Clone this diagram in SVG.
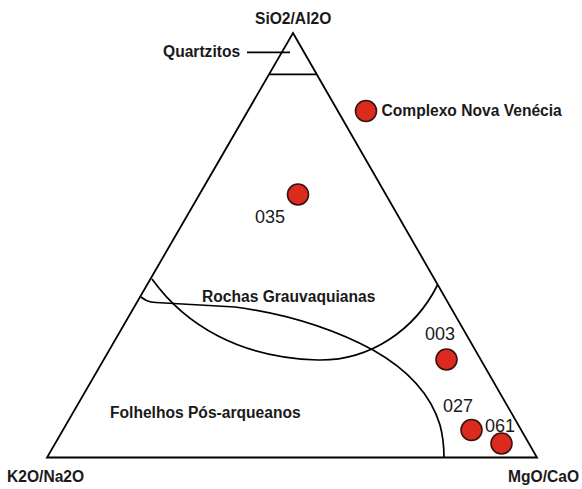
<svg xmlns="http://www.w3.org/2000/svg" width="582" height="489" viewBox="0 0 582 489">
<style>
.ln{fill:none;stroke:#000;stroke-width:1.8;stroke-linejoin:miter;stroke-linecap:butt}
.cv{fill:none;stroke:#000;stroke-width:1.7}
.lb{font-family:"Liberation Sans",Arial,sans-serif;font-weight:bold;font-size:15.6px;fill:#1a1a1a}
.num{font-family:"Liberation Sans",Arial,sans-serif;font-size:18px;fill:#1a1a1a}
.dot{fill:#dd2a1e;stroke:#3a1410;stroke-width:1.6}
</style>
<rect width="582" height="489" fill="#fff"/>
<g id="frame">
<path class="ln" d="M293,33 L537,457.5 L47,457.5 Z"/>
<line class="ln" x1="269.2" y1="74.3" x2="316.8" y2="74.3"/>
<line class="ln" x1="247" y1="52.3" x2="290" y2="52.3"/>
</g>
<g id="fields">
<path class="cv" d="M152,279 C185,325 240,358 318,360 C370,361 415,330 437.5,285"/>
<path class="cv" d="M141,297 C145,300 148,302 156,302.5 L235,307 C280,313 330,327 373,350 C405,368 430,392 440,425 C444,440 444,450 444,457.5"/>
</g>
<g id="labels">
<text class="lb" x="255" y="24">SiO2/Al2O</text>
<text class="lb" x="163" y="57.3">Quartzitos</text>
<text class="lb" x="202" y="302">Rochas Grauvaquianas</text>
<text class="lb" x="110" y="418">Folhelhos Pós-arqueanos</text>
<text class="lb" x="7" y="482">K2O/Na2O</text>
<text class="lb" x="508" y="482">MgO/CaO</text>
</g>
<g id="legend">
<circle class="dot" cx="366" cy="111" r="10.5"/>
<text class="lb" x="381.5" y="116">Complexo Nova Venécia</text>
</g>
<g id="s035">
<circle class="dot" cx="298" cy="194.5" r="10.5"/>
<text class="num" x="255" y="223">035</text>
</g>
<g id="s003">
<circle class="dot" cx="446.5" cy="359.5" r="10.5"/>
<text class="num" x="425" y="340">003</text>
</g>
<g id="s027">
<circle class="dot" cx="471.5" cy="430" r="10.5"/>
<text class="num" x="443" y="411.5">027</text>
</g>
<g id="s061">
<circle class="dot" cx="501.5" cy="443.5" r="10.5"/>
<text class="num" x="485" y="432">061</text>
</g>
</svg>
